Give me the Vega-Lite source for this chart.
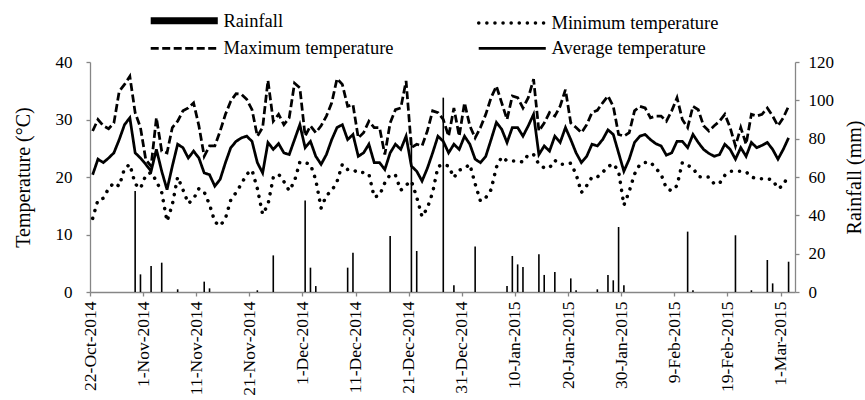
{
  "$schema": "https://vega.github.io/schema/vega-lite/v6.json",
  "width": 705,
  "height": 230,
  "autosize": "none",
  "padding": {"left": 90, "top": 62, "right": 70, "bottom": 108},
  "background": "white",
  "config": {
    "view": {"stroke": null},
    "font": "Liberation Serif",
    "axis": {
      "grid": false,
      "domainColor": "#868686",
      "tickColor": "#868686",
      "domainWidth": 1.3,
      "tickWidth": 1.3,
      "tickSize": 4,
      "labelColor": "black",
      "titleColor": "black",
      "labelFont": "Liberation Serif",
      "titleFont": "Liberation Serif",
      "labelFontSize": 17,
      "titleFontSize": 20,
      "titleFontWeight": "normal"
    }
  },
  "data": {
    "values": [
      {"date": "2014-10-22", "max": 28, "avg": 20.4, "min": 12.8, "rain": 0},
      {"date": "2014-10-23", "max": 30, "avg": 23.1, "min": 16, "rain": 0},
      {"date": "2014-10-24", "max": 28.9, "avg": 22.5, "min": 16.3, "rain": 0},
      {"date": "2014-10-25", "max": 28.4, "avg": 23.3, "min": 18, "rain": 0},
      {"date": "2014-10-26", "max": 29.4, "avg": 24.2, "min": 19, "rain": 0},
      {"date": "2014-10-27", "max": 34.9, "avg": 26.5, "min": 18.4, "rain": 0},
      {"date": "2014-10-28", "max": 36.1, "avg": 29.1, "min": 21.5, "rain": 0},
      {"date": "2014-10-29", "max": 37.5, "avg": 30.3, "min": 22.2, "rain": 0},
      {"date": "2014-10-30", "max": 31.2, "avg": 24.2, "min": 18.8, "rain": 52.7},
      {"date": "2014-10-31", "max": 28.6, "avg": 23.3, "min": 18, "rain": 9.2},
      {"date": "2014-11-01", "max": 23, "avg": 22.2, "min": 20.3, "rain": 0},
      {"date": "2014-11-02", "max": 21.9, "avg": 21, "min": 20.8, "rain": 13.6},
      {"date": "2014-11-03", "max": 30.3, "avg": 24.8, "min": 19.3, "rain": 0},
      {"date": "2014-11-04", "max": 24.5, "avg": 21, "min": 17.3, "rain": 15.3},
      {"date": "2014-11-05", "max": 24.2, "avg": 17.8, "min": 12.3, "rain": 0},
      {"date": "2014-11-06", "max": 28.6, "avg": 21.9, "min": 15.2, "rain": 0},
      {"date": "2014-11-07", "max": 29.7, "avg": 25.7, "min": 20, "rain": 1.4},
      {"date": "2014-11-08", "max": 31.5, "avg": 25.1, "min": 17.8, "rain": 0},
      {"date": "2014-11-09", "max": 32, "avg": 23.3, "min": 15.4, "rain": 0},
      {"date": "2014-11-10", "max": 32.9, "avg": 24.5, "min": 16.2, "rain": 0},
      {"date": "2014-11-11", "max": 28.9, "avg": 23.3, "min": 18, "rain": 0},
      {"date": "2014-11-12", "max": 23.6, "avg": 20.7, "min": 17.4, "rain": 5.4},
      {"date": "2014-11-13", "max": 25.4, "avg": 20.4, "min": 15.2, "rain": 1.9},
      {"date": "2014-11-14", "max": 25.4, "avg": 18.4, "min": 12.2, "rain": 0},
      {"date": "2014-11-15", "max": 28, "avg": 19.6, "min": 11.5, "rain": 0},
      {"date": "2014-11-16", "max": 30.9, "avg": 22.5, "min": 12.8, "rain": 0},
      {"date": "2014-11-17", "max": 33.2, "avg": 25.1, "min": 16, "rain": 0},
      {"date": "2014-11-18", "max": 34.5, "avg": 26.2, "min": 17.3, "rain": 0},
      {"date": "2014-11-19", "max": 34.4, "avg": 26.8, "min": 18.8, "rain": 0},
      {"date": "2014-11-20", "max": 33.5, "avg": 27.1, "min": 20.5, "rain": 0},
      {"date": "2014-11-21", "max": 31.7, "avg": 26.2, "min": 21.2, "rain": 0},
      {"date": "2014-11-22", "max": 27.1, "avg": 22.5, "min": 18, "rain": 0.9},
      {"date": "2014-11-23", "max": 28.6, "avg": 20.7, "min": 13.5, "rain": 0},
      {"date": "2014-11-24", "max": 36.8, "avg": 26, "min": 15.2, "rain": 0},
      {"date": "2014-11-25", "max": 29.7, "avg": 24.8, "min": 19.9, "rain": 19.1},
      {"date": "2014-11-26", "max": 30.9, "avg": 25.8, "min": 20.5, "rain": 0},
      {"date": "2014-11-27", "max": 29.1, "avg": 24.2, "min": 19.2, "rain": 0},
      {"date": "2014-11-28", "max": 30.3, "avg": 23.9, "min": 17.6, "rain": 0},
      {"date": "2014-11-29", "max": 36.3, "avg": 26.5, "min": 19.3, "rain": 0},
      {"date": "2014-11-30", "max": 35.5, "avg": 29.1, "min": 22.6, "rain": 0},
      {"date": "2014-12-01", "max": 27.1, "avg": 25.1, "min": 22.5, "rain": 47.8},
      {"date": "2014-12-02", "max": 28.9, "avg": 26.2, "min": 22.2, "rain": 12.7},
      {"date": "2014-12-03", "max": 27.7, "avg": 23.6, "min": 19.5, "rain": 3.1},
      {"date": "2014-12-04", "max": 28.9, "avg": 22.2, "min": 14.6, "rain": 0},
      {"date": "2014-12-05", "max": 30.6, "avg": 23.9, "min": 16.8, "rain": 0},
      {"date": "2014-12-06", "max": 32.9, "avg": 26.5, "min": 17.6, "rain": 0},
      {"date": "2014-12-07", "max": 37.1, "avg": 28.6, "min": 19.2, "rain": 0},
      {"date": "2014-12-08", "max": 36.1, "avg": 29.1, "min": 22.2, "rain": 0},
      {"date": "2014-12-09", "max": 32.3, "avg": 26.5, "min": 21.3, "rain": 12.7},
      {"date": "2014-12-10", "max": 32.6, "avg": 27.4, "min": 21.3, "rain": 20.5},
      {"date": "2014-12-11", "max": 26.8, "avg": 23.6, "min": 20.7, "rain": 0},
      {"date": "2014-12-12", "max": 27.7, "avg": 24.2, "min": 20.8, "rain": 0},
      {"date": "2014-12-13", "max": 29.7, "avg": 25.7, "min": 20.5, "rain": 0},
      {"date": "2014-12-14", "max": 28.6, "avg": 22.5, "min": 16.5, "rain": 0},
      {"date": "2014-12-15", "max": 28.6, "avg": 22.5, "min": 16.8, "rain": 0},
      {"date": "2014-12-16", "max": 23.9, "avg": 21.3, "min": 19, "rain": 0},
      {"date": "2014-12-17", "max": 29.4, "avg": 24.2, "min": 20.4, "rain": 29.2},
      {"date": "2014-12-18", "max": 31.7, "avg": 25.7, "min": 20.3, "rain": 0},
      {"date": "2014-12-19", "max": 32, "avg": 24.8, "min": 17.7, "rain": 0},
      {"date": "2014-12-20", "max": 36.7, "avg": 27.1, "min": 18.6, "rain": 0},
      {"date": "2014-12-21", "max": 25.1, "avg": 21.9, "min": 19.3, "rain": 80.5},
      {"date": "2014-12-22", "max": 25.7, "avg": 21, "min": 16.5, "rain": 21.4},
      {"date": "2014-12-23", "max": 25.4, "avg": 19.3, "min": 13.1, "rain": 0},
      {"date": "2014-12-24", "max": 28, "avg": 21.5, "min": 14.6, "rain": 0},
      {"date": "2014-12-25", "max": 31.5, "avg": 24.2, "min": 17.3, "rain": 0},
      {"date": "2014-12-26", "max": 31.2, "avg": 27.1, "min": 21.8, "rain": 0},
      {"date": "2014-12-27", "max": 30, "avg": 26.2, "min": 22.2, "rain": 101.4},
      {"date": "2014-12-28", "max": 27.1, "avg": 24.2, "min": 21.9, "rain": 0},
      {"date": "2014-12-29", "max": 32, "avg": 25.7, "min": 19.9, "rain": 3.5},
      {"date": "2014-12-30", "max": 27.1, "avg": 24.8, "min": 21.2, "rain": 0},
      {"date": "2014-12-31", "max": 32.9, "avg": 27.1, "min": 21.5, "rain": 0},
      {"date": "2015-01-01", "max": 28.9, "avg": 25.7, "min": 22.2, "rain": 0},
      {"date": "2015-01-02", "max": 26.8, "avg": 23.1, "min": 18.8, "rain": 23.7},
      {"date": "2015-01-03", "max": 28.6, "avg": 22.5, "min": 15.8, "rain": 0},
      {"date": "2015-01-04", "max": 30.9, "avg": 23.6, "min": 16.4, "rain": 0},
      {"date": "2015-01-05", "max": 33.8, "avg": 26.5, "min": 17.8, "rain": 0},
      {"date": "2015-01-06", "max": 35.8, "avg": 29.5, "min": 21.7, "rain": 0},
      {"date": "2015-01-07", "max": 32.9, "avg": 28.3, "min": 23.5, "rain": 0},
      {"date": "2015-01-08", "max": 30, "avg": 26, "min": 22.8, "rain": 3.1},
      {"date": "2015-01-09", "max": 34.1, "avg": 28.6, "min": 22.8, "rain": 18.8},
      {"date": "2015-01-10", "max": 33.8, "avg": 28.6, "min": 22.8, "rain": 14.4},
      {"date": "2015-01-11", "max": 32, "avg": 27.1, "min": 22.6, "rain": 13},
      {"date": "2015-01-12", "max": 33.8, "avg": 28.9, "min": 23.9, "rain": 0},
      {"date": "2015-01-13", "max": 37, "avg": 30.9, "min": 23.9, "rain": 0},
      {"date": "2015-01-14", "max": 28, "avg": 23.9, "min": 22.2, "rain": 19.7},
      {"date": "2015-01-15", "max": 29.4, "avg": 25.4, "min": 21.6, "rain": 8.9},
      {"date": "2015-01-16", "max": 31.2, "avg": 24.5, "min": 21.6, "rain": 0},
      {"date": "2015-01-17", "max": 30.6, "avg": 27.1, "min": 22.9, "rain": 10.4},
      {"date": "2015-01-18", "max": 32.3, "avg": 26, "min": 22.2, "rain": 0},
      {"date": "2015-01-19", "max": 35.2, "avg": 28.6, "min": 22.2, "rain": 0},
      {"date": "2015-01-20", "max": 29.4, "avg": 26.5, "min": 22.4, "rain": 7.1},
      {"date": "2015-01-21", "max": 28.6, "avg": 24.2, "min": 20.5, "rain": 0.9},
      {"date": "2015-01-22", "max": 27.7, "avg": 22.5, "min": 17.3, "rain": 0},
      {"date": "2015-01-23", "max": 29.1, "avg": 23.6, "min": 18.5, "rain": 0},
      {"date": "2015-01-24", "max": 31.2, "avg": 25.7, "min": 20, "rain": 0},
      {"date": "2015-01-25", "max": 31.6, "avg": 25.4, "min": 20, "rain": 1.4},
      {"date": "2015-01-26", "max": 32.9, "avg": 26.5, "min": 20.8, "rain": 0},
      {"date": "2015-01-27", "max": 34.1, "avg": 28.2, "min": 21.8, "rain": 8.9},
      {"date": "2015-01-28", "max": 32.3, "avg": 27.4, "min": 22.3, "rain": 6.1},
      {"date": "2015-01-29", "max": 27.4, "avg": 24.2, "min": 21, "rain": 33.9},
      {"date": "2015-01-30", "max": 27.1, "avg": 21, "min": 15.1, "rain": 3.5},
      {"date": "2015-01-31", "max": 27.7, "avg": 23.1, "min": 17.5, "rain": 0},
      {"date": "2015-02-01", "max": 31.5, "avg": 26, "min": 20.5, "rain": 0},
      {"date": "2015-02-02", "max": 32.3, "avg": 27.1, "min": 22.2, "rain": 0},
      {"date": "2015-02-03", "max": 32, "avg": 27.4, "min": 22.5, "rain": 0},
      {"date": "2015-02-04", "max": 30.3, "avg": 26.5, "min": 22.6, "rain": 0},
      {"date": "2015-02-05", "max": 30.6, "avg": 25.8, "min": 21.5, "rain": 0},
      {"date": "2015-02-06", "max": 30.6, "avg": 25.4, "min": 20.5, "rain": 0},
      {"date": "2015-02-07", "max": 29.7, "avg": 23.8, "min": 18, "rain": 0},
      {"date": "2015-02-08", "max": 31.5, "avg": 24.2, "min": 17.6, "rain": 0},
      {"date": "2015-02-09", "max": 33.8, "avg": 26.2, "min": 18.5, "rain": 0},
      {"date": "2015-02-10", "max": 30, "avg": 26.2, "min": 22.5, "rain": 0},
      {"date": "2015-02-11", "max": 28.6, "avg": 25.1, "min": 22, "rain": 31.5},
      {"date": "2015-02-12", "max": 32.3, "avg": 27.4, "min": 21.6, "rain": 0.9},
      {"date": "2015-02-13", "max": 31.7, "avg": 26, "min": 20.1, "rain": 0},
      {"date": "2015-02-14", "max": 28.9, "avg": 24.8, "min": 19.9, "rain": 0},
      {"date": "2015-02-15", "max": 28, "avg": 24.1, "min": 20, "rain": 0},
      {"date": "2015-02-16", "max": 28.9, "avg": 23.6, "min": 18.8, "rain": 0},
      {"date": "2015-02-17", "max": 29.7, "avg": 23.9, "min": 18.9, "rain": 0},
      {"date": "2015-02-18", "max": 30.9, "avg": 25.7, "min": 20.3, "rain": 0},
      {"date": "2015-02-19", "max": 28.6, "avg": 24.8, "min": 21, "rain": 0},
      {"date": "2015-02-20", "max": 25.4, "avg": 23.1, "min": 21, "rain": 29.6},
      {"date": "2015-02-21", "max": 28.6, "avg": 25.1, "min": 21, "rain": 0},
      {"date": "2015-02-22", "max": 25.7, "avg": 23.6, "min": 20.9, "rain": 0},
      {"date": "2015-02-23", "max": 30.9, "avg": 26, "min": 20, "rain": 0.9},
      {"date": "2015-02-24", "max": 30.6, "avg": 25.1, "min": 19.7, "rain": 0},
      {"date": "2015-02-25", "max": 30.9, "avg": 25.5, "min": 19.7, "rain": 0},
      {"date": "2015-02-26", "max": 32, "avg": 26, "min": 19.7, "rain": 16.7},
      {"date": "2015-02-27", "max": 30.6, "avg": 24.8, "min": 19.5, "rain": 4.5},
      {"date": "2015-02-28", "max": 28.9, "avg": 23.1, "min": 18, "rain": 0},
      {"date": "2015-03-01", "max": 30.3, "avg": 24.8, "min": 18.5, "rain": 0},
      {"date": "2015-03-02", "max": 32.3, "avg": 26.8, "min": 20.5, "rain": 15.8}
    ]
  },
  "encoding": {
    "x": {
      "field": "date",
      "type": "temporal",
      "timeUnit": "utcyearmonthdate",
      "bandPosition": 0.5,
      "scale": {
        "type": "utc",
        "nice": false,
        "domain": [
          {"year": 2014, "month": "oct", "date": 22, "utc": true},
          {"year": 2015, "month": "mar", "date": 3, "hours": 17, "utc": true}
        ]
      },
      "axis": {
        "title": null,
        "values": [
          {"year": 2014, "month": "oct", "date": 22, "utc": true},
          {"year": 2014, "month": "nov", "date": 1, "utc": true},
          {"year": 2014, "month": "nov", "date": 11, "utc": true},
          {"year": 2014, "month": "nov", "date": 21, "utc": true},
          {"year": 2014, "month": "dec", "date": 1, "utc": true},
          {"year": 2014, "month": "dec", "date": 11, "utc": true},
          {"year": 2014, "month": "dec", "date": 21, "utc": true},
          {"year": 2014, "month": "dec", "date": 31, "utc": true},
          {"year": 2015, "month": "jan", "date": 10, "utc": true},
          {"year": 2015, "month": "jan", "date": 20, "utc": true},
          {"year": 2015, "month": "jan", "date": 30, "utc": true},
          {"year": 2015, "month": "feb", "date": 9, "utc": true},
          {"year": 2015, "month": "feb", "date": 19, "utc": true},
          {"year": 2015, "month": "mar", "date": 1, "utc": true}
        ],
        "labelExpr": "utcFormat(datum.value, '%-d-%b-%Y')",
        "labelAngle": -90,
        "labelFontSize": 17.5,
        "labelPadding": 5,
        "labelOverlap": false,
        "labelFlush": false
      }
    }
  },
  "layer": [
    {
      "mark": {"type": "bar", "color": "black", "width": 1.6},
      "encoding": {
        "y": {
          "field": "rain",
          "type": "quantitative",
          "scale": {"domain": [0, 120], "nice": false},
          "axis": {
            "orient": "right",
            "title": "Rainfall (mm)",
            "titleAngle": 270,
            "values": [0, 20, 40, 60, 80, 100, 120],
            "labelPadding": 9,
            "titlePadding": 31
          }
        }
      }
    },
    {
      "layer": [
        {
          "mark": {"type": "line", "color": "black", "strokeWidth": 2.75, "strokeCap": "butt"},
          "encoding": {
            "y": {
              "field": "max",
              "type": "quantitative",
              "scale": {"domain": [0, 40], "nice": false},
              "axis": {
                "title": "Temperature (°C)",
                "values": [0, 5, 10, 15, 20, 25, 30, 35, 40],
                "labelPadding": 14,
                "titlePadding": 22
              }
            },
            "strokeDash": {
              "datum": "Maximum temperature",
              "type": "nominal",
              "scale": {
                "domain": ["Rainfall", "Maximum temperature", "Minimum temperature", "Average temperature"],
                "range": [[1, 0], [8, 3.5], [0.1, 8], [1, 0]]
              },
              "legend": {
                "orient": "none",
                "legendX": 85,
                "legendY": -51,
                "columns": 2,
                "title": null,
                "padding": 0,
                "symbolType": "M-3,0H3",
                "symbolSize": 500,
                "symbolStrokeColor": "black",
                "symbolStrokeWidth": 2.75,
                "labelFont": "Liberation Serif",
                "labelFontSize": 18.5,
                "labelColor": "black",
                "labelOffset": 30,
                "labelLimit": 0,
                "columnPadding": 77,
                "rowPadding": 4,
                "encode": {
                  "symbols": {
                    "update": {
                      "strokeWidth": {"signal": "datum.value === 'Rainfall' ? 7 : (datum.value === 'Minimum temperature' ? 3.5 : 2.75)"},
                      "strokeCap": {"signal": "datum.value === 'Minimum temperature' ? 'round' : 'butt'"}
                    }
                  }
                }
              }
            }
          }
        },
        {
          "mark": {"type": "line", "color": "black", "strokeWidth": 3.5, "strokeCap": "round"},
          "encoding": {
            "y": {"field": "min", "type": "quantitative"},
            "strokeDash": {"datum": "Minimum temperature", "type": "nominal"}
          }
        },
        {
          "mark": {"type": "line", "color": "black", "strokeWidth": 2.75, "strokeCap": "butt"},
          "encoding": {
            "y": {"field": "avg", "type": "quantitative"},
            "strokeDash": {"datum": "Average temperature", "type": "nominal"}
          }
        }
      ]
    }
  ],
  "resolve": {"scale": {"y": "independent"}}
}
